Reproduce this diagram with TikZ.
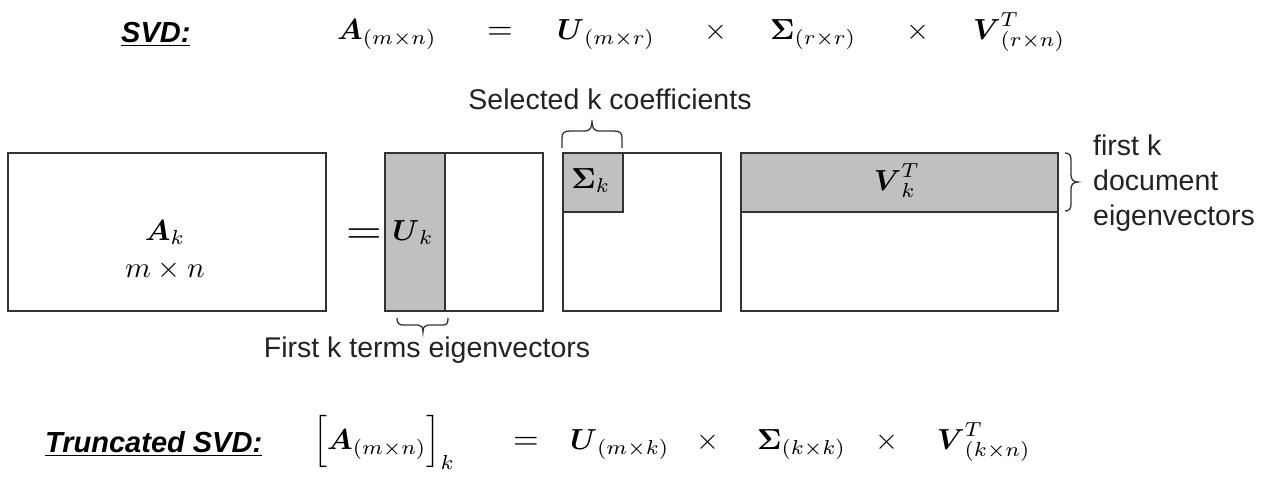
\documentclass[tikz,border=0pt]{standalone}
\usepackage{amsmath}
\usepackage{fontspec}
\setmainfont{Liberation Sans}
\usepackage{graphicx}
\DeclareMathSizes{10}{10}{7}{5}
\newcommand{\mx}[1]{\scalebox{2.95}[2.9]{$#1$}}
\definecolor{edge}{HTML}{333333}
\definecolor{shade}{HTML}{C0C0C0}
\definecolor{ink}{HTML}{222222}
\begin{document}
\begin{tikzpicture}[x=1pt,y=-1pt,
  mat/.style={draw=edge, line width=1.8pt, anchor=north west, inner sep=0pt},
  sub/.style={mat, fill=shade},
  eq/.style={inner sep=0pt, anchor=base west, text=black, font=\fontsize{10}{12}\selectfont},
  op/.style={eq, anchor=base},
  lbl/.style={inner sep=0pt, text=ink, font=\fontsize{28.5}{34}\selectfont},
  head/.style={inner sep=0pt, anchor=base west, text=black, font=\fontsize{29}{34}\selectfont\bfseries\itshape},
  brace/.style={draw=edge, line width=1.3pt}]
\useasboundingbox (0,0) rectangle (1277,479);

% top equation
\node[head] (svd) at (121,42) {\underline{SVD:}};
\node[eq] (tA) at (337,39) {\mx{\boldsymbol{A}_{(m\times n)}}};
\node[op] (teq) at (500,39) {\scalebox{3.3}{$=$}};
\node[eq] (tU) at (557,39) {\mx{\boldsymbol{U}_{(m\times r)}}};
\node[op] (tx1) at (716,39) {\mx{\times}};
\node[eq] (tS) at (770,39) {\mx{\boldsymbol{\Sigma}_{(r\times r)}}};
\node[op] (tx2) at (918,39) {\mx{\times}};
\node[eq] (tV) at (973,39) {\mx{\boldsymbol{V}^{T}_{(r\times n)}}};

% matrices
\node[mat, minimum width=318, minimum height=158] (A) at (7,152) {};
\node[mat, minimum width=158, minimum height=158] (U) at (384,152) {};
\node[sub, minimum width=60, minimum height=158] (Uk) at (384,152) {};
\node[mat, minimum width=158, minimum height=158] (S) at (562,152) {};
\node[sub, minimum width=60, minimum height=59] (Sk) at (562,152) {};
\node[mat, minimum width=317, minimum height=158] (V) at (740,152) {};
\node[sub, minimum width=317, minimum height=59] (Vk) at (740,152) {};

\node[eq, anchor=base] (lA) at (165,240) {\mx{\boldsymbol{A}_k}};
\node[eq, anchor=base] (lmn) at (165,277) {\mx{m\times n}};
\node[op] (beq) at (364,243) {\scalebox{4.6}[4.0]{$=$}};
\node[eq, anchor=base] (lU) at (413,240) {\mx{\boldsymbol{U}_k}};
\node[eq, anchor=base] (lS) at (591,188) {\mx{\boldsymbol{\Sigma}_k}};
\node[eq, anchor=base] (lV) at (897,190) {\mx{\boldsymbol{V}_k^{T}}};

% braces
\draw[brace] (562,148) -- (562,138) .. controls (562,133) and (564,131) .. (570,131) -- (585,131) .. controls (590,131) and (592,128) .. (592,120) .. controls (592,128) and (594,131) .. (599,131) -- (614,131) .. controls (620,131) and (622,133) .. (622,138) -- (622,148);
\draw[brace] (397,318) .. controls (397,323) and (399,325) .. (403,325) -- (418,325) .. controls (421,325) and (423,327) .. (423,332) .. controls (423,327) and (425,325) .. (428,325) -- (443,325) .. controls (447,325) and (448,323) .. (448,318);
\draw[brace] (1065,153) .. controls (1069,153) and (1071,155) .. (1071,160) -- (1071,175) .. controls (1071,179) and (1073,182) .. (1078,182) .. controls (1073,182) and (1071,185) .. (1071,189) -- (1071,204) .. controls (1071,209) and (1069,211) .. (1065,211);

% labels
\node[lbl, anchor=base] (sel) at (610,109) {Selected k coefficients};
\node[lbl, anchor=base] (fst) at (427,357) {First k terms eigenvectors};
\node[lbl, anchor=base west] (doc1) at (1093,155) {first k};
\node[lbl, anchor=base west] (doc2) at (1093,190) {document};
\node[lbl, anchor=base west] (doc3) at (1093,225) {eigenvectors};

% bottom equation
\node[head] (tsvd) at (45,452) {\underline{Truncated SVD:}};
\node[eq] (bA) at (313,449) {\mx{\Bigl[\boldsymbol{A}_{(m\times n)}\Bigr]_k}};
\node[op] (beq2) at (526,449) {\scalebox{3.3}{$=$}};
\node[eq] (bU) at (570,449) {\mx{\boldsymbol{U}_{(m\times k)}}};
\node[op] (bx1) at (708,449) {\mx{\times}};
\node[eq] (bS) at (757,449) {\mx{\boldsymbol{\Sigma}_{(k\times k)}}};
\node[op] (bx2) at (887,449) {\mx{\times}};
\node[eq] (bV) at (937,449) {\mx{\boldsymbol{V}^{T}_{(k\times n)}}};
\end{tikzpicture}
\end{document}
